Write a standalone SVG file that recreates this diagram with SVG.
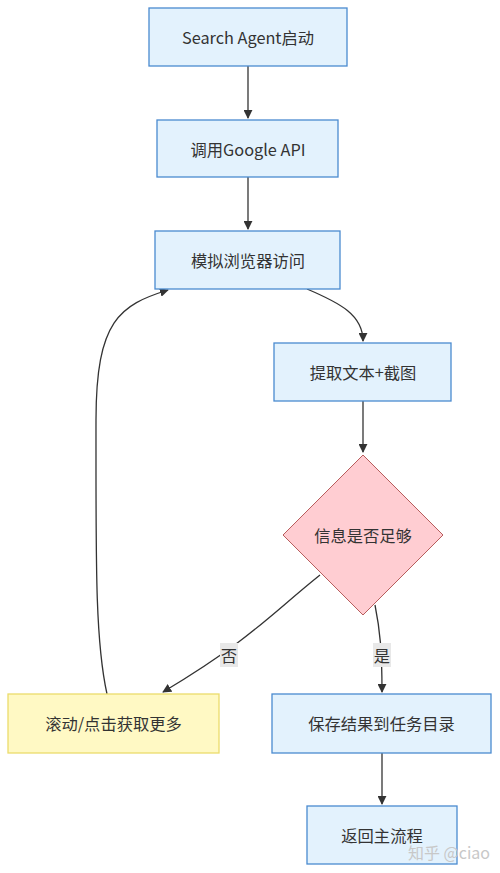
<svg xmlns="http://www.w3.org/2000/svg" width="500" height="873" viewBox="0 0 500 873">
<defs>
<style>
.blue{fill:#e3f2fd;stroke:#4a8ad0;stroke-width:1.3}
.yellow{fill:#fff9c4;stroke:#ecdc6c;stroke-width:1.3}
.pink{fill:#ffcdd2;stroke:#b85c5c;stroke-width:1}
.t{font-family:"Noto Sans CJK SC","Noto Sans",sans-serif;font-size:16.3px;fill:#333;text-anchor:middle;dominant-baseline:central}
.e{fill:none;stroke:#333;stroke-width:1.3}
.lb{fill:#e8e8e8}
</style>
<marker id="ah" viewBox="0 0 10 10" refX="9" refY="5" markerWidth="9" markerHeight="9" markerUnits="userSpaceOnUse" orient="auto">
<path d="M0,0 L10,5 L0,10 z" fill="#333"/>
</marker>
</defs>
<rect width="500" height="873" fill="#fff"/>
<g id="connectors">
<path class="e" d="M248,66 V118" marker-end="url(#ah)"/>
<path class="e" d="M248,177 V229" marker-end="url(#ah)"/>
<path class="e" d="M307,289 C340,303 363,315 363,341" marker-end="url(#ah)"/>
<path class="e" d="M363,401 V452" marker-end="url(#ah)"/>
<path class="e" d="M320,575 C270,615 250,640 163,692" marker-end="url(#ah)"/>
<path class="e" d="M375,605 C380,630 382,650 382,692" marker-end="url(#ah)"/>
<path class="e" d="M107,694 C95,640 96,560 96,420 C96,320 120,305 168,290" marker-end="url(#ah)"/>
<path class="e" d="M382,753 V804" marker-end="url(#ah)"/>
<rect class="lb" x="220" y="643" width="18" height="24"/>
<text class="t" x="229" y="655">否</text>
<rect class="lb" x="373" y="643" width="18" height="24"/>
<text class="t" x="382" y="655">是</text>
</g>
<g id="n1"><rect class="blue" x="149" y="8" width="198" height="58"/><text class="t" x="248" y="37">Search Agent启动</text></g>
<g id="n2"><rect class="blue" x="157" y="120" width="181" height="57"/><text class="t" x="248" y="149">调用Google API</text></g>
<g id="n3"><rect class="blue" x="155" y="231" width="185" height="58"/><text class="t" x="248" y="260">模拟浏览器访问</text></g>
<g id="n4"><rect class="blue" x="274" y="343" width="177" height="58"/><text class="t" x="363" y="372">提取文本+截图</text></g>
<g id="n5"><polygon class="pink" points="363,455 443,535 363,615 283,535"/><text class="t" x="363" y="535">信息是否足够</text></g>
<g id="n6"><rect class="yellow" x="8" y="694" width="211" height="59"/><text class="t" x="113.5" y="723">滚动/点击获取更多</text></g>
<g id="n7"><rect class="blue" x="272" y="694" width="219" height="59"/><text class="t" x="381.5" y="723">保存结果到任务目录</text></g>
<g id="n8"><rect class="blue" x="307" y="806" width="150" height="58"/><text class="t" x="382" y="835">返回主流程</text></g>
<text x="449" y="852" style="font-family:'Noto Sans CJK SC',sans-serif;font-size:16px;fill:#c8c8c8;text-anchor:middle;dominant-baseline:central">知乎 @ciao</text>
</svg>
